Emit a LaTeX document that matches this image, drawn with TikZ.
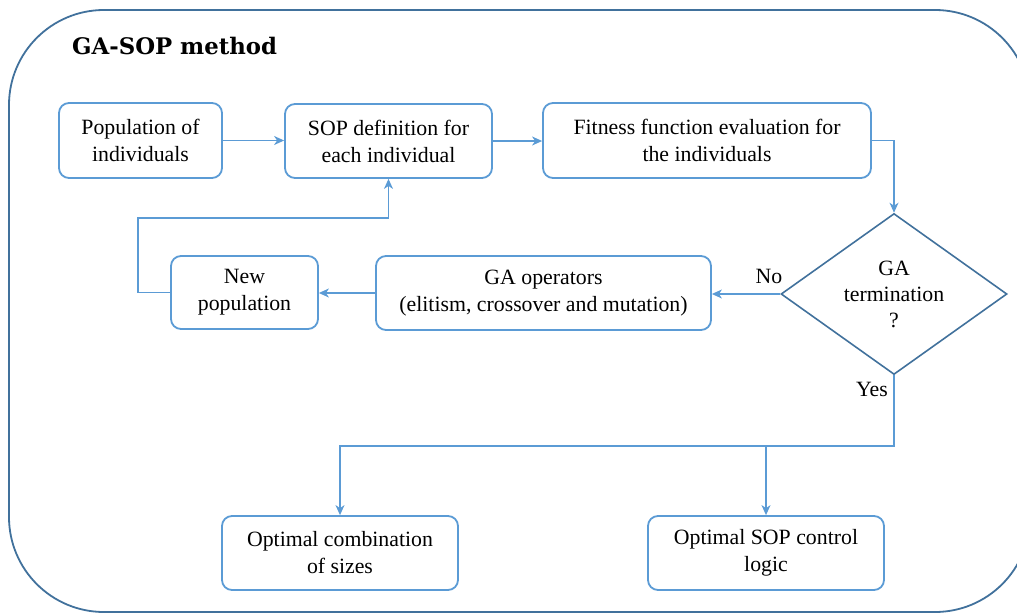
\documentclass[tikz,border=0pt]{standalone}
\usepackage{fontspec}
\setmainfont{Liberation Serif}
\newfontfamily\titlefont{DejaVu Serif}
\usetikzlibrary{shapes.geometric,arrows.meta,calc}
\definecolor{boxblue}{RGB}{91,155,213}
\definecolor{darkblue}{RGB}{65,113,156}
\begin{document}
\begin{tikzpicture}[x=1pt,y=-1pt,
  box/.style={draw=boxblue, line width=1.8pt, rounded corners=10pt, align=center, inner sep=0pt,
    font=\fontsize{21.8}{27}\selectfont},
  decision/.style={draw=darkblue, line width=1.6pt, diamond, aspect=1.4, inner sep=0pt,
    minimum width=226pt, minimum height=161pt, align=center, font=\fontsize{21.8}{26}\selectfont},
  conn/.style={draw=boxblue, line width=1.1pt, -{Stealth[length=10pt,width=9pt,inset=3pt]}},
  lbl/.style={font=\fontsize{21.8}{27}\selectfont, inner sep=0pt}]
\useasboundingbox (0,0) rectangle (1017,613);
\clip (0,0) rectangle (1017,613);
\draw[darkblue, line width=1.8pt, rounded corners=95pt] (9,10) rectangle (1030,612);
\node[font=\titlefont\bfseries\fontsize{22.8}{26}\selectfont, anchor=west, inner sep=0pt] (title) at (72,46) {GA-SOP method};

\node[box, minimum width=163pt, minimum height=75pt] (pop) at (140.5,140.5) {Population of\\individuals};
\node[box, minimum width=207pt, minimum height=74pt] (sop) at (388.5,141) {SOP definition for\\each individual};
\node[box, minimum width=328pt, minimum height=75pt] (fit) at (707,140.5) {Fitness function evaluation for\\the individuals};
\node[decision] (dia) at (894,294) {GA\\termination\\?};
\node[box, minimum width=147pt, minimum height=73pt] (newpop) at (244.5,292.5) {New\\population};
\node[box, minimum width=335pt, minimum height=74pt] (ops) at (543.5,293) {GA operators\\(elitism,\ crossover and mutation)};
\node[box, minimum width=236pt, minimum height=74pt] (opt1) at (340,553) {Optimal combination\\of sizes};
\node[box, minimum width=236pt, minimum height=74pt] (opt2) at (766,553) {Optimal SOP control\\logic};

\coordinate (loop) at (138,218);
\coordinate (split) at (894,446);

\draw[conn] (pop.east) -- (pop.east -| sop.west);
\draw[conn] (sop.east) -- (sop.east -| fit.west);
\draw[conn] (fit.east) -| (dia.north);
\draw[conn] (dia.west) -- (dia.west -| ops.east);
\draw[conn] (ops.west) -- (ops.west -| newpop.east);
\draw[conn] (newpop.west) -| (loop) -| (sop.south);
\draw[conn] (dia.south) -- (split) -| (opt1.north);
\draw[conn] (opt2.north |- split) -- (opt2.north);

\node[lbl] (no) at (769,276) {No};
\node[lbl] (yes) at (872,389) {Yes};
\end{tikzpicture}
\end{document}
